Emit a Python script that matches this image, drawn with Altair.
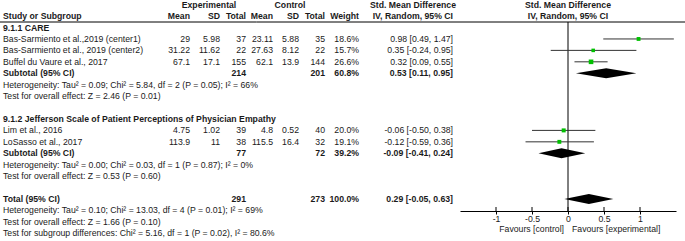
import altair as alt
import pandas as pd

# ---------------- data ----------------
study_names = [
    "Bas-Sarmiento et al.,2019 (center1)",
    "Bas-Sarmiento et al., 2019 (center2)",
    "Buffel du Vaure et al., 2017",
    "Lim et al., 2016",
    "LoSasso et al., 2017",
]
exp_mean = [29, 31.22, 67.1, 4.75, 113.9]
exp_sd = [5.98, 11.62, 17.1, 1.02, 11]
exp_total = [37, 22, 155, 39, 38]
ctl_mean = [23.11, 27.63, 62.1, 4.8, 115.5]
ctl_sd = [5.88, 8.12, 13.9, 0.52, 16.4]
ctl_total = [35, 22, 144, 40, 32]
weight = [18.6, 15.7, 26.6, 20.0, 19.1]
smd = [0.98, 0.35, 0.32, -0.06, -0.12]
ci_lo = [0.49, -0.24, 0.09, -0.50, -0.59]
ci_hi = [1.47, 0.95, 0.55, 0.38, 0.36]
study_rows = [2, 3, 4, 10, 11]

pooled_labels = ["Subtotal (95% CI)", "Subtotal (95% CI)", "Total (95% CI)"]
pooled_exp_total = [214, 77, 291]
pooled_ctl_total = [201, 72, 273]
pooled_weight = [60.8, 39.2, 100.0]
pooled_smd = [0.53, -0.09, 0.29]
pooled_lo = [0.11, -0.41, -0.05]
pooled_hi = [0.95, 0.24, 0.63]
pooled_rows = [5, 12, 16]

group_titles = ["9.1.1 CARE", "9.1.2 Jefferson Scale of Patient Perceptions of Physician Empathy"]
group_rows = [1, 9]

notes = [
    "Heterogeneity: Tau\u00b2 = 0.09; Chi\u00b2 = 5.84, df = 2 (P = 0.05); I\u00b2 = 66%",
    "Test for overall effect: Z = 2.46 (P = 0.01)",
    "Heterogeneity: Tau\u00b2 = 0.00; Chi\u00b2 = 0.03, df = 1 (P = 0.87); I\u00b2 = 0%",
    "Test for overall effect: Z = 0.53 (P = 0.60)",
    "Heterogeneity: Tau\u00b2 = 0.10; Chi\u00b2 = 13.03, df = 4 (P = 0.01); I\u00b2 = 69%",
    "Test for overall effect: Z = 1.66 (P = 0.10)",
    "Test for subgroup differences: Chi\u00b2 = 5.16, df = 1 (P = 0.02), I\u00b2 = 80.6%",
]
note_rows = [6, 7, 13, 14, 17, 18, 19]

axis_ticks = [-1, -0.5, 0, 0.5, 1]
x_domain = [-1.5, 1.5]
favours = ["Favours [control]", "Favours [experimental]"]

# ---------------- tables ----------------
def g(v):
    return f"{v:g}"

def ci(e, l, h):
    return f"{e:.2f} [{l:.2f}, {h:.2f}]"

studies = pd.DataFrame({
    "row": study_rows,
    "label": study_names,
    "em": [g(v) for v in exp_mean],
    "esd": [g(v) for v in exp_sd],
    "en": [str(v) for v in exp_total],
    "cm": [g(v) for v in ctl_mean],
    "csd": [g(v) for v in ctl_sd],
    "cn": [str(v) for v in ctl_total],
    "w": [f"{v:.1f}%" for v in weight],
    "ci": [ci(e, l, h) for e, l, h in zip(smd, ci_lo, ci_hi)],
    "smd": smd, "lo": ci_lo, "hi": ci_hi, "weight": weight,
})
pooled = pd.DataFrame({
    "row": pooled_rows,
    "label": pooled_labels,
    "en": [str(v) for v in pooled_exp_total],
    "cn": [str(v) for v in pooled_ctl_total],
    "w": [f"{v:.1f}%" for v in pooled_weight],
    "ci": [ci(e, l, h) for e, l, h in zip(pooled_smd, pooled_lo, pooled_hi)],
})
groups = pd.DataFrame({"row": group_rows, "label": group_titles})
notes_df = pd.DataFrame({"row": note_rows, "label": notes})

HALF = 0.44  # diamond half-height in row units
dia = []
for i, (r, e, l, h) in enumerate(zip(pooled_rows, pooled_smd, pooled_lo, pooled_hi)):
    dia += [
        {"id": i, "x": l, "ya": r, "yb": r},
        {"id": i, "x": e, "ya": r - HALF, "yb": r + HALF},
        {"id": i, "x": h, "ya": r, "yb": r},
    ]
dia = pd.DataFrame(dia)
ticks_df = pd.DataFrame({"t": axis_ticks})
zero_df = pd.DataFrame({"z": [0]})
one = pd.DataFrame({"k": [0]})

# ---------------- styling ----------------
W, H = 685, 241
FONT = "Liberation Sans"
FS = 8.7
TXT = "#1a1a1a"
GREEN = "#00c000"
ROW0, STEP = 16.1, 11.43
yscale = alt.Scale(domain=[-ROW0 / STEP, (H - ROW0) / STEP], range=[0, H])
xscale = alt.Scale(domain=x_domain, range=[460, 676], nice=False, zero=False)
Y = alt.Y("row:Q", scale=yscale, axis=None)
AXIS_Y = 211
LINE_Y = 22


def txt(df, field, x, align="right", bold=False):
    return alt.Chart(df).mark_text(
        align=align, baseline="middle", font=FONT, fontSize=FS,
        fontWeight="bold" if bold else "normal", color=TXT,
    ).encode(x=alt.value(x), y=Y, text=f"{field}:N")


def header(text, row, x, align):
    return alt.Chart(one).mark_text(
        text=text, align=align, baseline="middle", font=FONT, fontSize=FS,
        fontWeight="bold", color=TXT,
    ).encode(x=alt.value(x), y=alt.Y(datum=row, type="quantitative", scale=yscale, axis=None))


COLS = [("em", 190), ("esd", 220), ("en", 246), ("cm", 273), ("csd", 299),
        ("cn", 325), ("w", 359), ("ci", 453)]

layers = []
# header rows
layers += [
    header("Experimental", -1, 209, "center"),
    header("Control", -1, 290, "center"),
    header("Std. Mean Difference", -1, 413, "center"),
    header("Std. Mean Difference", -1, 568, "center"),
    header("Study or Subgroup", 0, 3, "left"),
]
for name, (_, xp) in zip(["Mean", "SD", "Total", "Mean", "SD", "Total", "Weight",
                          "IV, Random, 95% CI"], COLS):
    layers.append(header(name, 0, xp, "right"))
layers.append(header("IV, Random, 95% CI", 0, 568, "center"))

# header separator line
layers.append(alt.Chart(one).mark_rule(color="#000", strokeWidth=1).encode(
    x=alt.value(0), x2=alt.value(W), y=alt.value(LINE_Y)))

# table body
layers.append(txt(groups, "label", 3, "left", True))
layers.append(txt(studies, "label", 3, "left"))
for f, xp in COLS:
    layers.append(txt(studies, f, xp))
layers.append(txt(pooled, "label", 3, "left", True))
for f, xp in [c for c in COLS if c[0] in ("en", "cn", "w", "ci")]:
    layers.append(txt(pooled, f, xp, bold=True))
layers.append(txt(notes_df, "label", 3, "left"))

# forest plot
layers.append(alt.Chart(zero_df).mark_rule(color="#000", strokeWidth=1).encode(
    x=alt.X("z:Q", scale=xscale), y=alt.value(LINE_Y), y2=alt.value(AXIS_Y)))

layers.append(alt.Chart(studies).mark_rule(color="#333", strokeWidth=1).encode(
    x=alt.X("lo:Q", scale=xscale, axis=alt.Axis(
        values=axis_ticks, labelExpr="datum.value", offset=-(H - AXIS_Y),
        grid=False, title=None, domainColor="#000", tickColor="#000",
        tickSize=3, labelFont=FONT, labelFontSize=FS, labelColor=TXT,
        labelPadding=0, labelFlush=False, labelOverlap=False)),
    x2="hi:Q", y=Y))

layers.append(alt.Chart(ticks_df).mark_rule(color="#000", strokeWidth=1).encode(
    x=alt.X("t:Q", scale=xscale), y=alt.value(AXIS_Y - 4), y2=alt.value(AXIS_Y)))

layers.append(alt.Chart(studies).mark_square(color=GREEN, opacity=1).encode(
    x=alt.X("smd:Q", scale=xscale), y=Y,
    size=alt.Size("weight:Q", scale=alt.Scale(domain=[0, 30], range=[0, 24]), legend=None)))

layers.append(alt.Chart(dia).mark_area(color="#000", opacity=1).encode(
    x=alt.X("x:Q", scale=xscale),
    y=alt.Y("ya:Q", scale=yscale, axis=None), y2="yb:Q", detail="id:N"))

fav = pd.DataFrame({"z": [0, 0], "t": favours})
layers.append(alt.Chart(fav).transform_filter(alt.datum.t == favours[0]).mark_text(
    align="right", baseline="middle", font=FONT, fontSize=FS, color=TXT, dx=-4).encode(
    x=alt.X("z:Q", scale=xscale), y=alt.value(229), text="t:N"))
layers.append(alt.Chart(fav).transform_filter(alt.datum.t == favours[1]).mark_text(
    align="left", baseline="middle", font=FONT, fontSize=FS, color=TXT, dx=4).encode(
    x=alt.X("z:Q", scale=xscale), y=alt.value(229), text="t:N"))

chart = alt.layer(*layers).properties(
    width=W, height=H, padding=0, autosize=alt.AutoSizeParams(type="none"),
    background="white",
).configure_view(stroke=None)

chart.save("out.html", embed_options={"renderer": "svg", "actions": False})
